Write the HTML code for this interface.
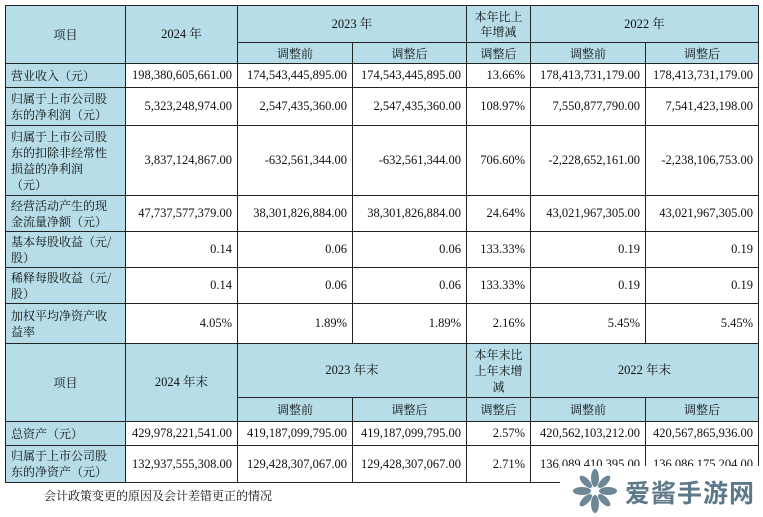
<!DOCTYPE html>
<html><head><meta charset="utf-8"><style>
body{margin:0;background:#fff;width:763px;height:517px;position:relative;overflow:hidden;font-family:"Liberation Serif","Noto Serif CJK SC",serif;font-size:12.5px;color:#111}
table{position:absolute;left:5px;top:5px;border-collapse:collapse;table-layout:fixed}
td{border:1px solid #222;padding:0 5px;line-height:17px}
.h{background:#b6dde8;text-align:center}
.l{background:#b6dde8;text-align:left;font-family:"Noto Serif CJK SC",serif;font-size:12px;line-height:16px;padding-right:18px}
.w{white-space:nowrap;padding-right:0;overflow:hidden}
.n{text-align:right}
.c{font-family:"Noto Serif CJK SC",serif;font-size:12px}
</style></head><body>
<table>
<colgroup><col style="width:120px"><col style="width:112px"><col style="width:115px"><col style="width:114px"><col style="width:64px"><col style="width:115px"><col style="width:113px"></colgroup>
<tr style="height:37px"><td class="h c" rowspan="2">项目</td><td class="h" rowspan="2">2024 年</td><td class="h" colspan="2">2023 年</td><td class="h c" style="line-height:15px">本年比上<br>年增减</td><td class="h" colspan="2">2022 年</td></tr>
<tr style="height:21px"><td class="h c">调整前</td><td class="h c">调整后</td><td class="h c">调整后</td><td class="h c">调整前</td><td class="h c">调整后</td></tr>
<tr style="height:24px"><td class="l">营业收入（元）</td><td class="n">198,380,605,661.00</td><td class="n">174,543,445,895.00</td><td class="n">174,543,445,895.00</td><td class="n">13.66%</td><td class="n">178,413,731,179.00</td><td class="n">178,413,731,179.00</td></tr>
<tr style="height:38px"><td class="l">归属于上市公司股东的净利润（元）</td><td class="n">5,323,248,974.00</td><td class="n">2,547,435,360.00</td><td class="n">2,547,435,360.00</td><td class="n">108.97%</td><td class="n">7,550,877,790.00</td><td class="n">7,541,423,198.00</td></tr>
<tr style="height:70px"><td class="l">归属于上市公司股东的扣除非经常性损益的净利润（元）</td><td class="n">3,837,124,867.00</td><td class="n">-632,561,344.00</td><td class="n">-632,561,344.00</td><td class="n">706.60%</td><td class="n">-2,228,652,161.00</td><td class="n">-2,238,106,753.00</td></tr>
<tr style="height:36px"><td class="l">经营活动产生的现金流量净额（元）</td><td class="n">47,737,577,379.00</td><td class="n">38,301,826,884.00</td><td class="n">38,301,826,884.00</td><td class="n">24.64%</td><td class="n">43,021,967,305.00</td><td class="n">43,021,967,305.00</td></tr>
<tr style="height:36px"><td class="l w">基本每股收益（元/<br>股）</td><td class="n">0.14</td><td class="n">0.06</td><td class="n">0.06</td><td class="n">133.33%</td><td class="n">0.19</td><td class="n">0.19</td></tr>
<tr style="height:36px"><td class="l w">稀释每股收益（元/<br>股）</td><td class="n">0.14</td><td class="n">0.06</td><td class="n">0.06</td><td class="n">133.33%</td><td class="n">0.19</td><td class="n">0.19</td></tr>
<tr style="height:40px"><td class="l w">加权平均净资产收<br>益率</td><td class="n">4.05%</td><td class="n">1.89%</td><td class="n">1.89%</td><td class="n">2.16%</td><td class="n">5.45%</td><td class="n">5.45%</td></tr>
<tr style="height:54px"><td class="h c" rowspan="2">项目</td><td class="h" rowspan="2">2024 年末</td><td class="h" colspan="2">2023 年末</td><td class="h c" style="line-height:16px">本年末比<br>上年末增<br>减</td><td class="h" colspan="2">2022 年末</td></tr>
<tr style="height:24px"><td class="h c">调整前</td><td class="h c">调整后</td><td class="h c">调整后</td><td class="h c">调整前</td><td class="h c">调整后</td></tr>
<tr style="height:24px"><td class="l">总资产（元）</td><td class="n">429,978,221,541.00</td><td class="n">419,187,099,795.00</td><td class="n">419,187,099,795.00</td><td class="n">2.57%</td><td class="n">420,562,103,212.00</td><td class="n">420,567,865,936.00</td></tr>
<tr style="height:37px"><td class="l">归属于上市公司股东的净资产（元）</td><td class="n">132,937,555,308.00</td><td class="n">129,428,307,067.00</td><td class="n">129,428,307,067.00</td><td class="n">2.71%</td><td class="n">136,089,410,395.00</td><td class="n">136,086,175,204.00</td></tr>
</table>
<div style="position:absolute;left:44px;top:487px;font-family:'Noto Serif CJK SC',serif;font-size:12px">会计政策变更的原因及会计差错更正的情况</div>
<div style="position:absolute;left:560px;top:466px;width:203px;height:51px;background:#fff"></div>
<svg style="position:absolute;left:572px;top:468px" width="46" height="46" viewBox="-23 -23 46 46">
<g fill="#6d8796"><ellipse cx="0" cy="-13" rx="4" ry="9"/><ellipse cx="0" cy="13" rx="4" ry="9"/><ellipse cx="-13" cy="0" rx="9" ry="4"/><ellipse cx="13" cy="0" rx="9" ry="4"/>
<ellipse cx="0" cy="-13" rx="3.5" ry="8" transform="rotate(45)"/><ellipse cx="0" cy="-13" rx="3.5" ry="8" transform="rotate(-45)"/><ellipse cx="0" cy="13" rx="3.5" ry="8" transform="rotate(45)"/><ellipse cx="0" cy="13" rx="3.5" ry="8" transform="rotate(-45)"/></g></svg>
<div style="position:absolute;left:625px;top:474px;font-family:'Noto Sans CJK SC',sans-serif;font-weight:bold;font-size:25px;color:#5d7888;letter-spacing:1px">爱酱手游网</div>
</body></html>
